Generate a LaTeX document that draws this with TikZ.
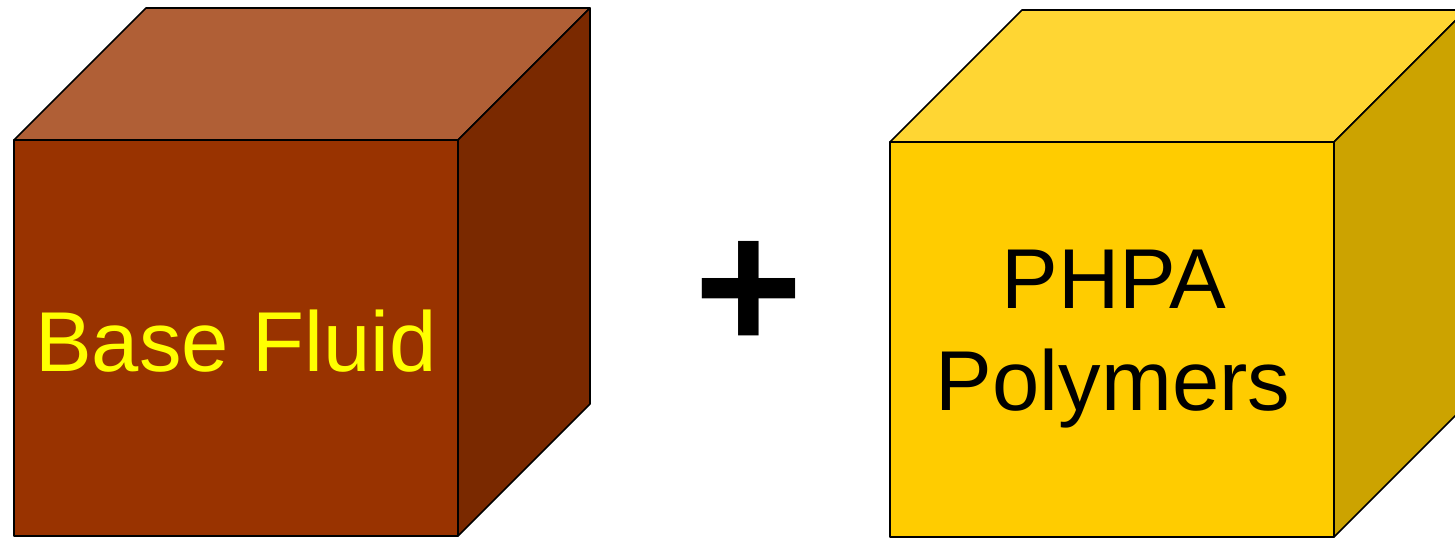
\documentclass[tikz,border=0pt]{standalone}
\usepackage{fontspec}
\setmainfont{Liberation Sans}
\definecolor{bfront}{HTML}{993300}
\definecolor{btop}{HTML}{B05F36}
\definecolor{bside}{HTML}{7A2900}
\definecolor{yfront}{HTML}{FFCC00}
\definecolor{ytop}{HTML}{FFD633}
\definecolor{yside}{HTML}{CCA300}
\definecolor{txtyellow}{HTML}{FFFF00}
\begin{document}
\begin{tikzpicture}[x=1pt,y=-1pt,
  face/.style={draw=black,line width=1.6pt,line join=round},
  label/.style={font=\fontsize{85}{100}\selectfont,inner sep=0pt,anchor=base}]
\useasboundingbox (0,0) rectangle (1455,538);
\clip (0,0) rectangle (1455,538);
% left cube
\coordinate (la) at (14,140);
\coordinate (lb) at (458,140);
\coordinate (lc) at (458,536);
\coordinate (ld) at (14,536);
\coordinate (le) at (146,8);
\coordinate (lf) at (590,8);
\coordinate (lg) at (590,404);
\filldraw[face,fill=bfront] (la) -- (lb) -- (lc) -- (ld) -- cycle;
\filldraw[face,fill=btop] (la) -- (le) -- (lf) -- (lb) -- cycle;
\filldraw[face,fill=bside] (lb) -- (lf) -- (lg) -- (lc) -- cycle;
\node[label,text=txtyellow] (bf) at (236,371) {Base Fluid};
% plus
\node[font=\bfseries\fontsize{186}{186}\selectfont,inner sep=0pt] (plus) at (749,296) {+};
% right cube
\coordinate (ra) at (890,142);
\coordinate (rb) at (1334,142);
\coordinate (rc) at (1334,537);
\coordinate (rd) at (890,537);
\coordinate (re) at (1022,10);
\coordinate (rf) at (1466,10);
\coordinate (rg) at (1466,405);
\filldraw[face,fill=yfront] (ra) -- (rb) -- (rc) -- (rd) -- cycle;
\filldraw[face,fill=ytop] (ra) -- (re) -- (rf) -- (rb) -- cycle;
\filldraw[face,fill=yside] (rb) -- (rf) -- (rg) -- (rc) -- cycle;
\node[label,text=black] (p1) at (1114,308) {PHPA};
\node[label,text=black] (p2) at (1113,410) {Polymers};
\end{tikzpicture}
\end{document}
